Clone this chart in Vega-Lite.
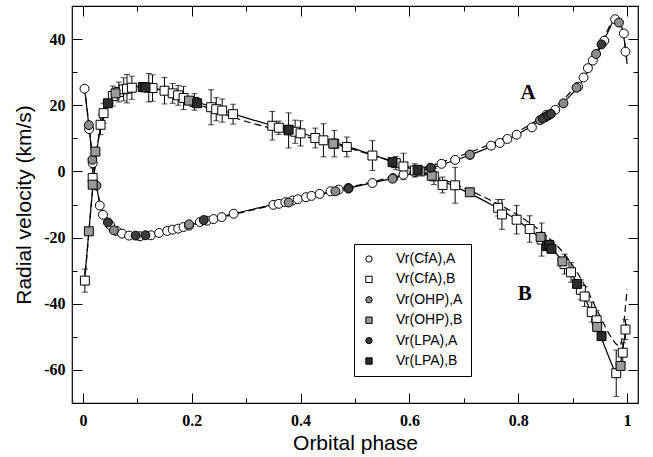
{
  "$schema": "https://vega.github.io/schema/vega-lite/v6.json",
  "width": 566,
  "height": 397,
  "autosize": {"type": "none"},
  "padding": {"left": 72, "top": 6, "right": 15, "bottom": 54},
  "background": "white",
  "config": {
    "view": {"stroke": "black", "strokeWidth": 1.2},
    "axis": {"domain": false, "grid": false, "tickColor": "black", "tickWidth": 1, "labelFont": "Liberation Serif", "labelFontWeight": "bold", "labelFontSize": 16, "labelColor": "black", "titleFont": "Liberation Sans", "titleFontSize": 21, "titleFontWeight": "normal", "titleColor": "black", "labelFlush": false, "labelOverlap": false},
    "legend": {"strokeColor": "black", "fillColor": "white", "padding": 8, "labelFont": "Liberation Sans", "labelFontSize": 14, "labelColor": "black", "symbolStrokeWidth": 1, "symbolSize": 40, "rowPadding": 6.4, "labelOffset": 20, "cornerRadius": 0}
  },
  "datasets": {
    "solid": [
      {"phase": 0.003, "v": 25, "comp": "A"}, {"phase": 0.007, "v": 19.5, "comp": "A"}, {"phase": 0.011, "v": 13.8, "comp": "A"}, {"phase": 0.015, "v": 7.5, "comp": "A"}, {"phase": 0.02, "v": 1, "comp": "A"}, {"phase": 0.025, "v": -4.3, "comp": "A"}, {"phase": 0.031, "v": -9.6, "comp": "A"}, {"phase": 0.037, "v": -12.9, "comp": "A"}, {"phase": 0.045, "v": -15.3, "comp": "A"}, {"phase": 0.055, "v": -17.2, "comp": "A"}, {"phase": 0.065, "v": -18.3, "comp": "A"}, {"phase": 0.075, "v": -18.9, "comp": "A"}, {"phase": 0.09, "v": -19.35, "comp": "A"}, {"phase": 0.105, "v": -19.45, "comp": "A"}, {"phase": 0.12, "v": -19.3, "comp": "A"}, {"phase": 0.14, "v": -18.7, "comp": "A"}, {"phase": 0.16, "v": -17.9, "comp": "A"}, {"phase": 0.18, "v": -17, "comp": "A"}, {"phase": 0.2, "v": -16.1, "comp": "A"}, {"phase": 0.25, "v": -13.9, "comp": "A"}, {"phase": 0.3, "v": -11.9, "comp": "A"}, {"phase": 0.35, "v": -10, "comp": "A"}, {"phase": 0.4, "v": -8.2, "comp": "A"}, {"phase": 0.45, "v": -6.4, "comp": "A"}, {"phase": 0.5, "v": -4.6, "comp": "A"}, {"phase": 0.55, "v": -2.8, "comp": "A"}, {"phase": 0.6, "v": -0.8, "comp": "A"}, {"phase": 0.65, "v": 1.6, "comp": "A"}, {"phase": 0.7, "v": 4.3, "comp": "A"}, {"phase": 0.75, "v": 7.5, "comp": "A"}, {"phase": 0.8, "v": 11.3, "comp": "A"}, {"phase": 0.85, "v": 16.5, "comp": "A"}, {"phase": 0.88, "v": 20.4, "comp": "A"}, {"phase": 0.91, "v": 25.6, "comp": "A"}, {"phase": 0.93, "v": 30.8, "comp": "A"}, {"phase": 0.95, "v": 37.2, "comp": "A"}, {"phase": 0.965, "v": 42.2, "comp": "A"}, {"phase": 0.975, "v": 45.6, "comp": "A"}, {"phase": 0.98, "v": 46.4, "comp": "A"}, {"phase": 0.985, "v": 45.8, "comp": "A"}, {"phase": 0.99, "v": 43.8, "comp": "A"}, {"phase": 0.995, "v": 39.5, "comp": "A"}, {"phase": 1.0, "v": 32.5, "comp": "A"},
      {"phase": 0.003, "v": -33, "comp": "B"}, {"phase": 0.007, "v": -25.5, "comp": "B"}, {"phase": 0.011, "v": -18.1, "comp": "B"}, {"phase": 0.015, "v": -10.5, "comp": "B"}, {"phase": 0.02, "v": -2, "comp": "B"}, {"phase": 0.025, "v": 5.5, "comp": "B"}, {"phase": 0.032, "v": 13, "comp": "B"}, {"phase": 0.038, "v": 17.4, "comp": "B"}, {"phase": 0.046, "v": 20.6, "comp": "B"}, {"phase": 0.055, "v": 22.8, "comp": "B"}, {"phase": 0.065, "v": 24.2, "comp": "B"}, {"phase": 0.08, "v": 25.2, "comp": "B"}, {"phase": 0.1, "v": 25.6, "comp": "B"}, {"phase": 0.12, "v": 25.4, "comp": "B"}, {"phase": 0.14, "v": 24.8, "comp": "B"}, {"phase": 0.17, "v": 23.4, "comp": "B"}, {"phase": 0.2, "v": 21.6, "comp": "B"}, {"phase": 0.25, "v": 18.8, "comp": "B"}, {"phase": 0.3, "v": 16.2, "comp": "B"}, {"phase": 0.35, "v": 13.8, "comp": "B"}, {"phase": 0.4, "v": 11.6, "comp": "B"}, {"phase": 0.45, "v": 9.3, "comp": "B"}, {"phase": 0.5, "v": 6.8, "comp": "B"}, {"phase": 0.55, "v": 4, "comp": "B"}, {"phase": 0.6, "v": 1, "comp": "B"}, {"phase": 0.65, "v": -2.2, "comp": "B"}, {"phase": 0.7, "v": -5.8, "comp": "B"}, {"phase": 0.75, "v": -10, "comp": "B"}, {"phase": 0.8, "v": -15, "comp": "B"}, {"phase": 0.85, "v": -21.7, "comp": "B"}, {"phase": 0.88, "v": -26.8, "comp": "B"}, {"phase": 0.91, "v": -34.3, "comp": "B"}, {"phase": 0.93, "v": -41, "comp": "B"}, {"phase": 0.95, "v": -49.2, "comp": "B"}, {"phase": 0.965, "v": -55.5, "comp": "B"}, {"phase": 0.975, "v": -59.5, "comp": "B"}, {"phase": 0.981, "v": -61.2, "comp": "B"}, {"phase": 0.985, "v": -60.2, "comp": "B"}, {"phase": 0.99, "v": -56, "comp": "B"}, {"phase": 0.995, "v": -50.5, "comp": "B"}, {"phase": 0.999, "v": -46, "comp": "B"}
    ],
    "dashed": [
      {"phase": 0.003, "v": 25.6, "comp": "A"}, {"phase": 0.011, "v": 14.3, "comp": "A"}, {"phase": 0.02, "v": 1.4, "comp": "A"}, {"phase": 0.031, "v": -9.4, "comp": "A"}, {"phase": 0.045, "v": -15.1, "comp": "A"}, {"phase": 0.06, "v": -17.8, "comp": "A"}, {"phase": 0.08, "v": -19, "comp": "A"}, {"phase": 0.1, "v": -19.3, "comp": "A"}, {"phase": 0.13, "v": -19, "comp": "A"}, {"phase": 0.16, "v": -17.9, "comp": "A"}, {"phase": 0.2, "v": -16.2, "comp": "A"}, {"phase": 0.25, "v": -14.1, "comp": "A"}, {"phase": 0.3, "v": -12.1, "comp": "A"}, {"phase": 0.35, "v": -10.2, "comp": "A"}, {"phase": 0.4, "v": -8.3, "comp": "A"}, {"phase": 0.45, "v": -6.4, "comp": "A"}, {"phase": 0.5, "v": -4.4, "comp": "A"}, {"phase": 0.55, "v": -2.4, "comp": "A"}, {"phase": 0.6, "v": -0.2, "comp": "A"}, {"phase": 0.65, "v": 2.3, "comp": "A"}, {"phase": 0.7, "v": 5.1, "comp": "A"}, {"phase": 0.75, "v": 8.3, "comp": "A"}, {"phase": 0.8, "v": 12.1, "comp": "A"}, {"phase": 0.85, "v": 17.3, "comp": "A"}, {"phase": 0.88, "v": 21.3, "comp": "A"}, {"phase": 0.91, "v": 26.7, "comp": "A"}, {"phase": 0.93, "v": 31.7, "comp": "A"}, {"phase": 0.95, "v": 38, "comp": "A"}, {"phase": 0.965, "v": 43, "comp": "A"}, {"phase": 0.975, "v": 46, "comp": "A"}, {"phase": 0.98, "v": 46.5, "comp": "A"}, {"phase": 0.985, "v": 45.5, "comp": "A"}, {"phase": 0.99, "v": 43.5, "comp": "A"}, {"phase": 0.995, "v": 39.5, "comp": "A"}, {"phase": 1.0, "v": 33, "comp": "A"},
      {"phase": 0.003, "v": -34, "comp": "B"}, {"phase": 0.011, "v": -18.6, "comp": "B"}, {"phase": 0.02, "v": -1.6, "comp": "B"}, {"phase": 0.032, "v": 13.2, "comp": "B"}, {"phase": 0.046, "v": 20.4, "comp": "B"}, {"phase": 0.065, "v": 24, "comp": "B"}, {"phase": 0.1, "v": 25.4, "comp": "B"}, {"phase": 0.14, "v": 24.4, "comp": "B"}, {"phase": 0.2, "v": 21, "comp": "B"}, {"phase": 0.25, "v": 17.9, "comp": "B"}, {"phase": 0.3, "v": 15.1, "comp": "B"}, {"phase": 0.35, "v": 12.9, "comp": "B"}, {"phase": 0.4, "v": 10.9, "comp": "B"}, {"phase": 0.45, "v": 8.8, "comp": "B"}, {"phase": 0.5, "v": 6.5, "comp": "B"}, {"phase": 0.55, "v": 4, "comp": "B"}, {"phase": 0.6, "v": 1.3, "comp": "B"}, {"phase": 0.65, "v": -1.7, "comp": "B"}, {"phase": 0.7, "v": -5, "comp": "B"}, {"phase": 0.75, "v": -8.8, "comp": "B"}, {"phase": 0.8, "v": -13.3, "comp": "B"}, {"phase": 0.85, "v": -19.3, "comp": "B"}, {"phase": 0.883, "v": -24.6, "comp": "B"}, {"phase": 0.91, "v": -31, "comp": "B"}, {"phase": 0.93, "v": -37, "comp": "B"}, {"phase": 0.944, "v": -41.7, "comp": "B"}, {"phase": 0.96, "v": -47, "comp": "B"}, {"phase": 0.972, "v": -50.5, "comp": "B"}, {"phase": 0.982, "v": -52.5, "comp": "B"}, {"phase": 0.987, "v": -52.8, "comp": "B"}, {"phase": 0.992, "v": -49, "comp": "B"}, {"phase": 0.996, "v": -42.5, "comp": "B"}, {"phase": 1.0, "v": -35.7, "comp": "B"}
    ],
    "pts": [
      {"phase": 0.003, "v": 25, "series": "Vr(CfA),A"}, {"phase": 0.0115, "v": 12.8, "series": "Vr(CfA),A"}, {"phase": 0.018, "v": 2.5, "series": "Vr(CfA),A"}, {"phase": 0.031, "v": -10.3, "series": "Vr(CfA),A"}, {"phase": 0.037, "v": -13.1, "series": "Vr(CfA),A"}, {"phase": 0.05, "v": -16.2, "series": "Vr(CfA),A"}, {"phase": 0.062, "v": -18, "series": "Vr(CfA),A"}, {"phase": 0.072, "v": -18.8, "series": "Vr(CfA),A"}, {"phase": 0.085, "v": -19.4, "series": "Vr(CfA),A"}, {"phase": 0.105, "v": -19.6, "series": "Vr(CfA),A"}, {"phase": 0.125, "v": -19.3, "series": "Vr(CfA),A"}, {"phase": 0.14, "v": -18.6, "series": "Vr(CfA),A"}, {"phase": 0.155, "v": -18, "series": "Vr(CfA),A"}, {"phase": 0.165, "v": -17.6, "series": "Vr(CfA),A"}, {"phase": 0.175, "v": -17.3, "series": "Vr(CfA),A"}, {"phase": 0.185, "v": -16.8, "series": "Vr(CfA),A"}, {"phase": 0.195, "v": -16.4, "series": "Vr(CfA),A"}, {"phase": 0.215, "v": -15.3, "series": "Vr(CfA),A"}, {"phase": 0.228, "v": -14.9, "series": "Vr(CfA),A"}, {"phase": 0.24, "v": -14.4, "series": "Vr(CfA),A"}, {"phase": 0.255, "v": -13.8, "series": "Vr(CfA),A"}, {"phase": 0.277, "v": -12.8, "series": "Vr(CfA),A"}, {"phase": 0.35, "v": -10.1, "series": "Vr(CfA),A"}, {"phase": 0.36, "v": -9.8, "series": "Vr(CfA),A"}, {"phase": 0.372, "v": -9.3, "series": "Vr(CfA),A"}, {"phase": 0.385, "v": -8.8, "series": "Vr(CfA),A"}, {"phase": 0.395, "v": -8.4, "series": "Vr(CfA),A"}, {"phase": 0.41, "v": -7.8, "series": "Vr(CfA),A"}, {"phase": 0.42, "v": -7.4, "series": "Vr(CfA),A"}, {"phase": 0.435, "v": -6.8, "series": "Vr(CfA),A"}, {"phase": 0.455, "v": -6, "series": "Vr(CfA),A"}, {"phase": 0.47, "v": -5.5, "series": "Vr(CfA),A"}, {"phase": 0.488, "v": -5, "series": "Vr(CfA),A"}, {"phase": 0.532, "v": -3.5, "series": "Vr(CfA),A"}, {"phase": 0.57, "v": -2, "series": "Vr(CfA),A"}, {"phase": 0.589, "v": -1, "series": "Vr(CfA),A"}, {"phase": 0.61, "v": -0.2, "series": "Vr(CfA),A"}, {"phase": 0.639, "v": 1, "series": "Vr(CfA),A"}, {"phase": 0.659, "v": 2.3, "series": "Vr(CfA),A"}, {"phase": 0.684, "v": 3.5, "series": "Vr(CfA),A"}, {"phase": 0.711, "v": 5, "series": "Vr(CfA),A"}, {"phase": 0.75, "v": 7.8, "series": "Vr(CfA),A"}, {"phase": 0.766, "v": 8.6, "series": "Vr(CfA),A"}, {"phase": 0.78, "v": 9.8, "series": "Vr(CfA),A"}, {"phase": 0.797, "v": 11.1, "series": "Vr(CfA),A"}, {"phase": 0.825, "v": 13.3, "series": "Vr(CfA),A"}, {"phase": 0.852, "v": 17.1, "series": "Vr(CfA),A"}, {"phase": 0.868, "v": 18.6, "series": "Vr(CfA),A"}, {"phase": 0.91, "v": 25.6, "series": "Vr(CfA),A"}, {"phase": 0.92, "v": 28.4, "series": "Vr(CfA),A"}, {"phase": 0.928, "v": 31.2, "series": "Vr(CfA),A"}, {"phase": 0.937, "v": 33.5, "series": "Vr(CfA),A"}, {"phase": 0.958, "v": 39.5, "series": "Vr(CfA),A"}, {"phase": 0.978, "v": 46, "series": "Vr(CfA),A"}, {"phase": 0.994, "v": 41.7, "series": "Vr(CfA),A"}, {"phase": 0.997, "v": 36.2, "series": "Vr(CfA),A"},
      {"phase": 0.0037, "v": -33, "err": 3.5, "series": "Vr(CfA),B"}, {"phase": 0.018, "v": -2, "err": 3, "series": "Vr(CfA),B"}, {"phase": 0.0325, "v": 14.1, "err": 3, "series": "Vr(CfA),B"}, {"phase": 0.038, "v": 17.6, "err": 3, "series": "Vr(CfA),B"}, {"phase": 0.055, "v": 22.8, "err": 3, "series": "Vr(CfA),B"}, {"phase": 0.066, "v": 24, "err": 3, "series": "Vr(CfA),B"}, {"phase": 0.075, "v": 24.8, "err": 3.5, "series": "Vr(CfA),B"}, {"phase": 0.081, "v": 25, "err": 4.3, "series": "Vr(CfA),B"}, {"phase": 0.09, "v": 25.3, "err": 3.5, "series": "Vr(CfA),B"}, {"phase": 0.121, "v": 25.3, "err": 4.3, "series": "Vr(CfA),B"}, {"phase": 0.128, "v": 25.2, "err": 4, "series": "Vr(CfA),B"}, {"phase": 0.15, "v": 24.4, "err": 4, "series": "Vr(CfA),B"}, {"phase": 0.165, "v": 23.6, "err": 3, "series": "Vr(CfA),B"}, {"phase": 0.175, "v": 23, "err": 3, "series": "Vr(CfA),B"}, {"phase": 0.185, "v": 22.2, "err": 3.5, "series": "Vr(CfA),B"}, {"phase": 0.205, "v": 21, "err": 2.5, "series": "Vr(CfA),B"}, {"phase": 0.2356, "v": 19.4, "err": 5.3, "series": "Vr(CfA),B"}, {"phase": 0.245, "v": 18.8, "err": 3.5, "series": "Vr(CfA),B"}, {"phase": 0.256, "v": 18.4, "err": 3.5, "series": "Vr(CfA),B"}, {"phase": 0.276, "v": 17.3, "err": 3, "series": "Vr(CfA),B"}, {"phase": 0.348, "v": 13.8, "err": 4.3, "series": "Vr(CfA),B"}, {"phase": 0.36, "v": 13.2, "err": 2, "series": "Vr(CfA),B"}, {"phase": 0.378, "v": 12.4, "err": 5.3, "series": "Vr(CfA),B"}, {"phase": 0.39, "v": 12, "err": 3.5, "series": "Vr(CfA),B"}, {"phase": 0.4, "v": 11.5, "err": 3.8, "series": "Vr(CfA),B"}, {"phase": 0.427, "v": 10.1, "err": 3, "series": "Vr(CfA),B"}, {"phase": 0.442, "v": 9.4, "err": 5, "series": "Vr(CfA),B"}, {"phase": 0.462, "v": 8.4, "err": 4, "series": "Vr(CfA),B"}, {"phase": 0.485, "v": 7.4, "err": 3, "series": "Vr(CfA),B"}, {"phase": 0.532, "v": 4.8, "err": 4.5, "series": "Vr(CfA),B"}, {"phase": 0.575, "v": 2.5, "err": 2, "series": "Vr(CfA),B"}, {"phase": 0.589, "v": 1.5, "err": 4, "series": "Vr(CfA),B"}, {"phase": 0.61, "v": 0.3, "err": 2, "series": "Vr(CfA),B"}, {"phase": 0.645, "v": -1.5, "err": 2.5, "series": "Vr(CfA),B"}, {"phase": 0.661, "v": -4.1, "err": 2.4, "series": "Vr(CfA),B"}, {"phase": 0.684, "v": -4.2, "err": 5.4, "series": "Vr(CfA),B"}, {"phase": 0.763, "v": -11, "err": 2.5, "series": "Vr(CfA),B"}, {"phase": 0.77, "v": -13, "err": 4.5, "series": "Vr(CfA),B"}, {"phase": 0.797, "v": -14.6, "err": 4.3, "series": "Vr(CfA),B"}, {"phase": 0.821, "v": -17.4, "err": 4, "series": "Vr(CfA),B"}, {"phase": 0.843, "v": -20.6, "err": 5, "series": "Vr(CfA),B"}, {"phase": 0.885, "v": -28, "err": 3, "series": "Vr(CfA),B"}, {"phase": 0.897, "v": -30.5, "err": 3, "series": "Vr(CfA),B"}, {"phase": 0.915, "v": -35.8, "err": 3, "series": "Vr(CfA),B"}, {"phase": 0.922, "v": -37.8, "err": 3, "series": "Vr(CfA),B"}, {"phase": 0.935, "v": -42.5, "err": 3, "series": "Vr(CfA),B"}, {"phase": 0.944, "v": -45, "err": 3, "series": "Vr(CfA),B"}, {"phase": 0.98, "v": -61, "err": 7, "series": "Vr(CfA),B"}, {"phase": 0.992, "v": -54.8, "err": 3, "series": "Vr(CfA),B"}, {"phase": 0.997, "v": -47.8, "err": 3, "series": "Vr(CfA),B"},
      {"phase": 0.011, "v": 14, "series": "Vr(OHP),A"}, {"phase": 0.0175, "v": 3.5, "series": "Vr(OHP),A"}, {"phase": 0.025, "v": -4.3, "series": "Vr(OHP),A"}, {"phase": 0.057, "v": -17.8, "series": "Vr(OHP),A"}, {"phase": 0.195, "v": -16, "series": "Vr(OHP),A"}, {"phase": 0.378, "v": -9.4, "series": "Vr(OHP),A"}, {"phase": 0.464, "v": -6, "series": "Vr(OHP),A"}, {"phase": 0.569, "v": -2.2, "series": "Vr(OHP),A"}, {"phase": 0.711, "v": 5.1, "series": "Vr(OHP),A"}, {"phase": 0.84, "v": 15.5, "series": "Vr(OHP),A"}, {"phase": 0.85, "v": 16.4, "series": "Vr(OHP),A"}, {"phase": 0.883, "v": 20.6, "series": "Vr(OHP),A"}, {"phase": 0.907, "v": 25.3, "series": "Vr(OHP),A"}, {"phase": 0.943, "v": 35.5, "series": "Vr(OHP),A"}, {"phase": 0.985, "v": 45, "series": "Vr(OHP),A"},
      {"phase": 0.011, "v": -18.1, "series": "Vr(OHP),B"}, {"phase": 0.018, "v": -4, "series": "Vr(OHP),B"}, {"phase": 0.023, "v": 6, "series": "Vr(OHP),B"}, {"phase": 0.06, "v": 23.6, "series": "Vr(OHP),B"}, {"phase": 0.195, "v": 21.4, "series": "Vr(OHP),B"}, {"phase": 0.46, "v": 8.4, "series": "Vr(OHP),B"}, {"phase": 0.62, "v": 0, "series": "Vr(OHP),B"}, {"phase": 0.641, "v": -1.3, "series": "Vr(OHP),B"}, {"phase": 0.711, "v": -6.3, "series": "Vr(OHP),B"}, {"phase": 0.841, "v": -19.8, "series": "Vr(OHP),B"}, {"phase": 0.881, "v": -27.2, "series": "Vr(OHP),B"}, {"phase": 0.945, "v": -47, "series": "Vr(OHP),B"}, {"phase": 0.988, "v": -58.8, "series": "Vr(OHP),B"},
      {"phase": 0.046, "v": -15.4, "series": "Vr(LPA),A"}, {"phase": 0.097, "v": -19.4, "series": "Vr(LPA),A"}, {"phase": 0.115, "v": -19.3, "series": "Vr(LPA),A"}, {"phase": 0.222, "v": -14.7, "series": "Vr(LPA),A"}, {"phase": 0.488, "v": -5.2, "series": "Vr(LPA),A"}, {"phase": 0.639, "v": 1.1, "series": "Vr(LPA),A"}, {"phase": 0.845, "v": 16, "series": "Vr(LPA),A"}, {"phase": 0.855, "v": 16.9, "series": "Vr(LPA),A"}, {"phase": 0.86, "v": 17.4, "series": "Vr(LPA),A"}, {"phase": 0.953, "v": 38.4, "series": "Vr(LPA),A"},
      {"phase": 0.046, "v": 20.6, "series": "Vr(LPA),B"}, {"phase": 0.11, "v": 25.5, "series": "Vr(LPA),B"}, {"phase": 0.115, "v": 25.4, "series": "Vr(LPA),B"}, {"phase": 0.21, "v": 20.6, "series": "Vr(LPA),B"}, {"phase": 0.378, "v": 12.6, "series": "Vr(LPA),B"}, {"phase": 0.569, "v": 2.8, "series": "Vr(LPA),B"}, {"phase": 0.615, "v": 0.5, "series": "Vr(LPA),B"}, {"phase": 0.853, "v": -22.6, "series": "Vr(LPA),B"}, {"phase": 0.857, "v": -22.2, "series": "Vr(LPA),B"}, {"phase": 0.861, "v": -23.4, "series": "Vr(LPA),B"}, {"phase": 0.908, "v": -34, "series": "Vr(LPA),B"}, {"phase": 0.953, "v": -49.8, "series": "Vr(LPA),B"}
    ],
    "lbl": [
      {"phase": 0.818, "v": 23.6, "name": "A"},
      {"phase": 0.812, "v": -37.2, "name": "B"}
    ]
  },
  "resolve": {"axis": {"x": "independent", "y": "independent"}},
  "layer": [
    {
      "data": {"name": "solid"},
      "mark": {"type": "line", "color": "black", "strokeWidth": 1.2, "interpolate": "monotone"},
      "encoding": {
        "x": {"field": "phase", "type": "quantitative", "scale": {"domain": [-0.02, 1.02], "nice": false, "zero": false},
              "axis": {"orient": "bottom", "values": [0, 0.2, 0.4, 0.6, 0.8, 1], "tickSize": -10, "labelPadding": 19, "labelExpr": "'' + datum.value", "title": "Orbital phase", "titleBaseline": "alphabetic", "titleY": 46}},
        "y": {"field": "v", "type": "quantitative", "scale": {"domain": [-70, 50], "nice": false, "zero": false},
              "axis": {"orient": "left", "values": [-60, -40, -20, 0, 20, 40], "tickSize": -10, "labelPadding": 17, "labelExpr": "'' + datum.value", "title": "Radial velocity (km/s)", "titleBaseline": "alphabetic", "titleX": -42}},
        "detail": {"field": "comp"}
      }
    },
    {
      "data": {"name": "dashed"},
      "mark": {"type": "line", "color": "black", "strokeWidth": 1.2, "strokeDash": [7, 4], "interpolate": "monotone"},
      "encoding": {
        "x": {"field": "phase", "type": "quantitative", "scale": {"domain": [-0.02, 1.02], "nice": false, "zero": false},
              "axis": {"orient": "bottom", "values": [0.1, 0.3, 0.5, 0.7, 0.9], "tickSize": -5, "labels": false, "title": null}},
        "y": {"field": "v", "type": "quantitative", "scale": {"domain": [-70, 50], "nice": false, "zero": false},
              "axis": {"orient": "left", "values": [-50, -30, -10, 10, 30], "tickSize": -5, "labels": false, "title": null}},
        "detail": {"field": "comp"}
      }
    },
    {
      "data": {"name": "pts"},
      "transform": [{"filter": {"field": "series", "equal": "Vr(CfA),B"}}],
      "mark": {"type": "errorbar", "ticks": {"size": 6, "color": "black", "strokeWidth": 1}, "rule": {"color": "black", "strokeWidth": 1}},
      "encoding": {
        "x": {"field": "phase", "type": "quantitative", "scale": {"domain": [-0.02, 1.02], "nice": false, "zero": false}, "axis": null},
        "y": {"field": "v", "type": "quantitative", "scale": {"domain": [-70, 50], "nice": false, "zero": false}, "axis": null},
        "yError": {"field": "err"}
      }
    },
    {
      "data": {"name": "pts"},
      "mark": {"type": "point", "filled": true, "size": 80, "strokeWidth": 1, "opacity": 1},
      "encoding": {
        "x": {"field": "phase", "type": "quantitative", "scale": {"domain": [-0.02, 1.02], "nice": false, "zero": false},
              "axis": {"orient": "top", "values": [0, 0.2, 0.4, 0.6, 0.8, 1], "tickSize": -10, "labels": false, "title": null}},
        "y": {"field": "v", "type": "quantitative", "scale": {"domain": [-70, 50], "nice": false, "zero": false},
              "axis": {"orient": "right", "values": [-60, -40, -20, 0, 20, 40], "tickSize": -10, "labels": false, "title": null}},
        "shape": {"field": "series", "type": "nominal",
                  "scale": {"domain": ["Vr(CfA),A", "Vr(CfA),B", "Vr(OHP),A", "Vr(OHP),B", "Vr(LPA),A", "Vr(LPA),B"], "range": ["circle", "square", "circle", "square", "circle", "square"]},
                  "legend": {"orient": "none", "legendX": 282, "legendY": 238, "title": null, "labelExpr": "datum.label + '      '"}},
        "fill": {"field": "series", "type": "nominal",
                 "scale": {"domain": ["Vr(CfA),A", "Vr(CfA),B", "Vr(OHP),A", "Vr(OHP),B", "Vr(LPA),A", "Vr(LPA),B"], "range": ["#ffffff", "#ffffff", "#8c8c8c", "#9a9a9a", "#3c3c3c", "#2c2c2c"]},
                 "legend": {"orient": "none", "legendX": 282, "legendY": 238, "title": null, "labelExpr": "datum.label + '      '"}},
        "stroke": {"field": "series", "type": "nominal",
                   "scale": {"domain": ["Vr(CfA),A", "Vr(CfA),B", "Vr(OHP),A", "Vr(OHP),B", "Vr(LPA),A", "Vr(LPA),B"], "range": ["#000000", "#000000", "#000000", "#000000", "#000000", "#000000"]},
                   "legend": {"orient": "none", "legendX": 282, "legendY": 238, "title": null, "labelExpr": "datum.label + '      '"}}
      }
    },
    {
      "data": {"name": "lbl"},
      "mark": {"type": "text", "font": "Liberation Serif", "fontWeight": "bold", "fontSize": 21, "color": "black", "align": "center", "baseline": "middle"},
      "encoding": {
        "x": {"field": "phase", "type": "quantitative", "scale": {"domain": [-0.02, 1.02], "nice": false, "zero": false},
              "axis": {"orient": "top", "values": [0.1, 0.3, 0.5, 0.7, 0.9], "tickSize": -5, "labels": false, "title": null}},
        "y": {"field": "v", "type": "quantitative", "scale": {"domain": [-70, 50], "nice": false, "zero": false},
              "axis": {"orient": "right", "values": [-50, -30, -10, 10, 30], "tickSize": -5, "labels": false, "title": null}},
        "text": {"field": "name"}
      }
    }
  ]
}
